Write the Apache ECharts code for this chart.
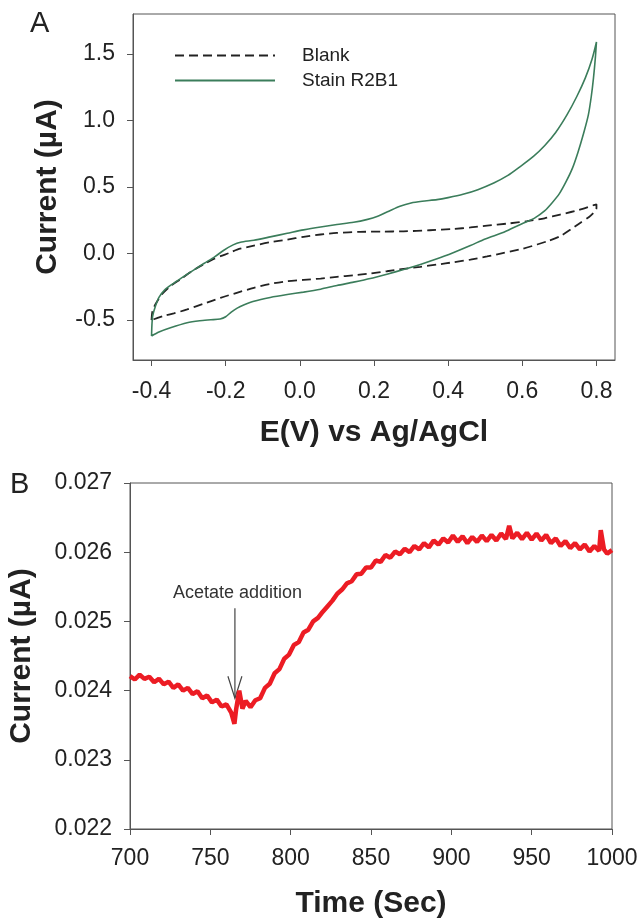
<!DOCTYPE html>
<html>
<head>
<meta charset="utf-8">
<script src="https://cdn.jsdelivr.net/npm/echarts@6/dist/echarts.min.js"></script>
<style>
  html, body { margin: 0; padding: 0; background: #fff; }
  #chart { width: 642px; height: 919px; }
</style>
</head>
<body>
<div id="chart"></div>
<script>
// Panel A: cyclic voltammograms (E in V, I in µA)
const blankE = [-0.400, -0.398, -0.393, -0.385, -0.370, -0.349, -0.320, -0.290, -0.259, -0.235, -0.214, -0.190, -0.169, -0.124, -0.080, -0.034, 0.010, 0.056, 0.100, 0.163, 0.220, 0.280, 0.350, 0.415, 0.460, 0.505, 0.560, 0.613, 0.660, 0.702, 0.750, 0.792, 0.800,
  0.800, 0.795, 0.780, 0.756, 0.730, 0.702, 0.670, 0.640, 0.600, 0.550, 0.505, 0.460, 0.415, 0.370, 0.325, 0.280, 0.235, 0.190, 0.145, 0.100, 0.056, 0.010, -0.034, -0.080, -0.124, -0.170, -0.214, -0.260, -0.304, -0.340, -0.367, -0.385, -0.400]
const blankI = [-0.500, -0.440, -0.400, -0.360, -0.300, -0.245, -0.190, -0.130, -0.080, -0.045, -0.020, 0.005, 0.030, 0.060, 0.085, 0.105, 0.125, 0.143, 0.155, 0.163, 0.165, 0.167, 0.175, 0.185, 0.196, 0.210, 0.225, 0.243, 0.265, 0.293, 0.325, 0.363, 0.370,
  0.340, 0.315, 0.275, 0.230, 0.180, 0.130, 0.095, 0.068, 0.035, 0.005, -0.022, -0.045, -0.065, -0.083, -0.100, -0.115, -0.133, -0.150, -0.163, -0.175, -0.188, -0.198, -0.208, -0.228, -0.258, -0.295, -0.333, -0.378, -0.420, -0.450, -0.468, -0.485, -0.500]

const stainE = [-0.400, -0.399, -0.397, -0.390, -0.380, -0.365, -0.344, -0.320, -0.295, -0.259, -0.230, -0.205, -0.180, -0.160, -0.124, -0.080, -0.034, 0.010, 0.056, 0.100, 0.145, 0.180, 0.210, 0.240, 0.270, 0.300, 0.330, 0.370, 0.400, 0.440, 0.480, 0.523, 0.560, 0.595, 0.630, 0.660, 0.690, 0.720, 0.747, 0.770, 0.788, 0.800,
  0.797, 0.792, 0.786, 0.778, 0.765, 0.750, 0.735, 0.718, 0.700, 0.680, 0.660, 0.635, 0.613, 0.580, 0.550, 0.500, 0.460, 0.415, 0.370, 0.325, 0.280, 0.235, 0.190, 0.145, 0.100, 0.056, 0.010, -0.034, -0.080, -0.124, -0.150, -0.169, -0.185, -0.200, -0.215, -0.240, -0.270, -0.304, -0.349, -0.380, -0.400]
const stainI = [-0.620, -0.540, -0.470, -0.400, -0.330, -0.275, -0.230, -0.185, -0.140, -0.075, -0.025, 0.025, 0.065, 0.085, 0.100, 0.125, 0.152, 0.178, 0.200, 0.218, 0.235, 0.255, 0.280, 0.318, 0.355, 0.380, 0.393, 0.405, 0.420, 0.445, 0.480, 0.530, 0.585, 0.655, 0.730, 0.810, 0.910, 1.040, 1.180, 1.320, 1.460, 1.590,
  1.470, 1.320, 1.180, 1.040, 0.900, 0.760, 0.640, 0.540, 0.450, 0.380, 0.320, 0.270, 0.240, 0.200, 0.160, 0.110, 0.060, 0.008, -0.040, -0.082, -0.120, -0.155, -0.188, -0.215, -0.240, -0.268, -0.290, -0.308, -0.330, -0.358, -0.385, -0.410, -0.440, -0.475, -0.492, -0.498, -0.505, -0.520, -0.558, -0.590, -0.620]

// Panel B: amperometric response (time in s, current in µA)
const timeSec = [700, 703, 706, 709, 712, 715, 718, 721, 724, 727, 730, 733, 736, 739, 742, 745, 748, 751, 754, 757, 760, 763, 765, 766, 768, 770, 772, 775, 778, 781, 784, 787, 790, 793, 796, 799, 802, 805, 808, 811, 814, 817, 820, 823, 826, 829, 832, 835, 838, 841, 844, 847, 850, 853, 856, 859, 862, 865, 868, 871, 874, 877, 880, 883, 886, 889, 892, 895, 898, 901, 904, 907, 910, 913, 916, 919, 922, 925, 928, 931, 934, 936, 938, 941, 944, 947, 950, 953, 956, 959, 962, 965, 968, 971, 974, 977, 980, 983, 986, 989, 992, 993, 995, 997, 1000]
const currentB = [0.02421, 0.02416, 0.02423, 0.02417, 0.02420, 0.02412, 0.02417, 0.02409, 0.02413, 0.02404, 0.02409, 0.02400, 0.02404, 0.02395, 0.02399, 0.02389, 0.02393, 0.02383, 0.02387, 0.02377, 0.02380, 0.02368, 0.02352, 0.02372, 0.02400, 0.02374, 0.02385, 0.02376, 0.02386, 0.02389, 0.02404, 0.02410, 0.02425, 0.02431, 0.02446, 0.02452, 0.02466, 0.02470, 0.02484, 0.02488, 0.02500, 0.02505, 0.02514, 0.02522, 0.02530, 0.02540, 0.02546, 0.02555, 0.02558, 0.02568, 0.02569, 0.02578, 0.02578, 0.02588, 0.02586, 0.02596, 0.02592, 0.02601, 0.02597, 0.02605, 0.02600, 0.02609, 0.02604, 0.02613, 0.02607, 0.02617, 0.02611, 0.02620, 0.02614, 0.02624, 0.02615, 0.02623, 0.02613, 0.02622, 0.02615, 0.02624, 0.02616, 0.02625, 0.02617, 0.02627, 0.02619, 0.02638, 0.02620, 0.02628, 0.02619, 0.02628, 0.02618, 0.02627, 0.02617, 0.02625, 0.02613, 0.02620, 0.02609, 0.02616, 0.02606, 0.02613, 0.02604, 0.02611, 0.02601, 0.02609, 0.02602, 0.02632, 0.02604, 0.02598, 0.02603]

// ticks
const cvETicks = [-0.4, -0.2, 0.0, 0.2, 0.4, 0.6, 0.8]
const cvITicks = [-0.5, 0.0, 0.5, 1.0, 1.5]

// annotation (data coordinates of panel B)
const noteText = 'Acetate addition'
const noteAt = [766.9, 0.02541]
const arrowTime = 765.3
const arrowFrom = 0.02519
const arrowTo = 0.02389

const FONT = '"Liberation Sans", Arial, sans-serif'
const AXIS_COLOR = '#555'
const TEXT_COLOR = '#222'

const zip = (xs, ys) => xs.map((x, i) => [x, ys[i]])

const baseAxis = {
  axisLine: { show: true, onZero: false, lineStyle: { color: AXIS_COLOR, width: 1 } },
  axisTick: { show: true, inside: false, length: 6, lineStyle: { color: AXIS_COLOR } },
  axisLabel: { color: TEXT_COLOR, fontSize: 23, fontFamily: FONT, margin: 18 },
  splitLine: { show: false },
  nameLocation: 'middle',
  nameTextStyle: { color: TEXT_COLOR, fontSize: 30, fontWeight: 'bold', fontFamily: FONT },
}

const chart = echarts.init(document.getElementById('chart'), null, { renderer: 'canvas' })

const option = {
  animation: false,
  backgroundColor: '#fff',
  grid: [
    { left: 133, top: 14, width: 482, height: 346, show: true, borderColor: AXIS_COLOR, borderWidth: 1, outerBoundsMode: 'none' },
    { left: 130, top: 483, width: 482, height: 346, show: true, borderColor: AXIS_COLOR, borderWidth: 1, outerBoundsMode: 'none' },
  ],
  legend: {
    data: ['Blank', 'Stain R2B1'],
    orient: 'vertical',
    left: 169, top: 41,
    itemWidth: 100, itemHeight: 18, itemGap: 6,
    itemStyle: { opacity: 0 },
    textStyle: { color: TEXT_COLOR, fontSize: 19, fontFamily: FONT, padding: [0, 0, 0, 22] },
  },
  xAxis: [
    {
      ...baseAxis, type: 'value', gridIndex: 0, min: -0.45, max: 0.85,
      name: 'E(V) vs Ag/AgCl', nameGap: 58,
      axisTick: { ...baseAxis.axisTick, customValues: cvETicks },
      axisLabel: { ...baseAxis.axisLabel, margin: 20, customValues: cvETicks, formatter: v => v.toFixed(1) },
    },
    {
      ...baseAxis, type: 'value', gridIndex: 1, min: 700, max: 1000, interval: 50,
      name: 'Time (Sec)', nameGap: 60,
      axisLabel: { ...baseAxis.axisLabel, margin: 18, formatter: v => String(v) },
    },
  ],
  yAxis: [
    {
      ...baseAxis, type: 'value', gridIndex: 0, min: -0.8, max: 1.8,
      name: 'Current (µA)', nameGap: 70,
      axisTick: { ...baseAxis.axisTick, customValues: cvITicks },
      axisLabel: { ...baseAxis.axisLabel, customValues: cvITicks, formatter: v => v.toFixed(1) },
    },
    {
      ...baseAxis, type: 'value', gridIndex: 1, min: 0.022, max: 0.027, interval: 0.001,
      name: 'Current (µA)', nameGap: 93,
      axisLabel: { ...baseAxis.axisLabel, formatter: v => v.toFixed(3) },
    },
  ],
  series: [
    {
      name: 'Blank', type: 'line', xAxisIndex: 0, yAxisIndex: 0,
      data: zip(blankE, blankI), showSymbol: false, symbol: 'none', smooth: 0.25,
      lineStyle: { color: '#222', width: 1.8, type: [9, 5] },
      itemStyle: { color: '#222' },
    },
    {
      name: 'Stain R2B1', type: 'line', xAxisIndex: 0, yAxisIndex: 0,
      data: zip(stainE, stainI), showSymbol: false, symbol: 'none', smooth: 0.25,
      lineStyle: { color: '#3b7d5b', width: 1.6 },
      itemStyle: { color: '#3b7d5b' },
    },
    {
      name: 'Response', type: 'line', xAxisIndex: 1, yAxisIndex: 1,
      data: zip(timeSec, currentB), showSymbol: false, symbol: 'none',
      lineStyle: { color: '#ec1c24', width: 4.5 },
      itemStyle: { color: '#ec1c24' },
    },
  ],
}

chart.setOption(option)

// annotation arrow and panel letters
const pText = chart.convertToPixel({ gridIndex: 1 }, noteAt)
const pTop = chart.convertToPixel({ gridIndex: 1 }, [arrowTime, arrowFrom])
const pTip = chart.convertToPixel({ gridIndex: 1 }, [arrowTime, arrowTo])

chart.setOption({
  graphic: [
    { type: 'text', left: 30, top: 9, style: { text: 'A', fontSize: 29, fontFamily: FONT, fill: TEXT_COLOR } },
    { type: 'text', left: 10, top: 470, style: { text: 'B', fontSize: 29, fontFamily: FONT, fill: TEXT_COLOR } },
    {
      type: 'text', x: pText[0], y: pText[1],
      style: { text: noteText, fontSize: 18, fontFamily: FONT, fill: '#333', align: 'center', verticalAlign: 'middle' },
    },
    {
      type: 'line', shape: { x1: pTop[0], y1: pTop[1], x2: pTip[0], y2: pTip[1] },
      style: { stroke: '#444', lineWidth: 1.2 },
    },
    {
      type: 'polyline',
      shape: { points: [[pTip[0] - 7, pTip[1] - 22], [pTip[0], pTip[1]], [pTip[0] + 7, pTip[1] - 22]] },
      style: { stroke: '#444', lineWidth: 1.2, fill: null },
    },
  ],
})

window.addEventListener('resize', () => chart.resize())
</script>
</body>
</html>
